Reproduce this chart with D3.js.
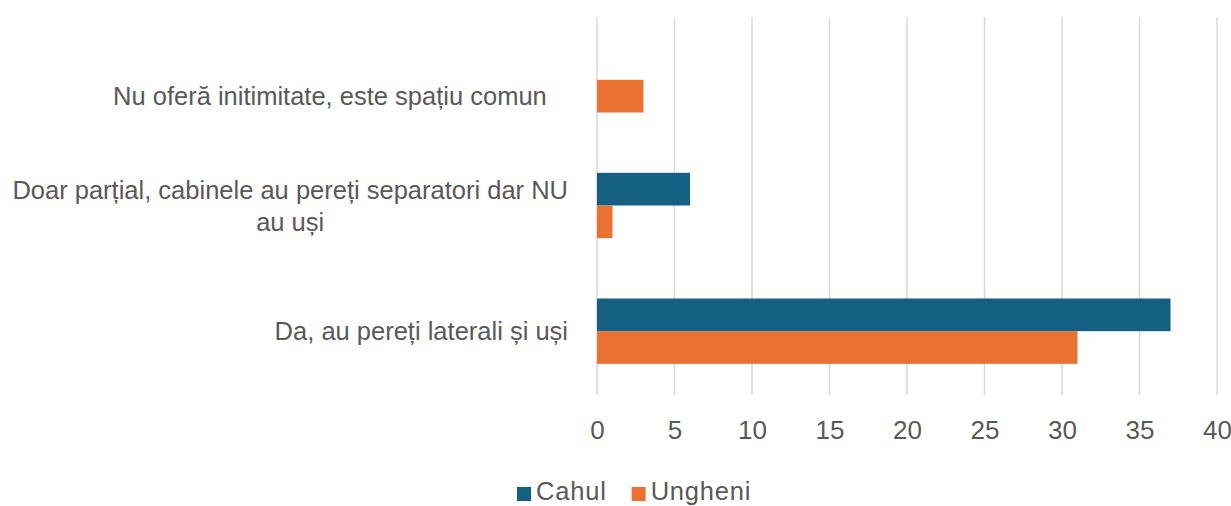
<!DOCTYPE html>
<html><head><meta charset="utf-8">
<script src="https://cdn.jsdelivr.net/npm/d3@7"></script>
<style>
body{margin:0;background:#fff;}
text{font-family:"Liberation Sans",Arial,sans-serif;fill:#595959;}
.lbl{white-space:pre;}
</style></head>
<body><svg id="chart" width="1231" height="506"></svg>
<script>
// ---- data ----
const categories = ["Nu oferă initimitate, este spațiu comun", "Doar parțial, cabinele au pereți separatori dar NU au uși", "Da, au pereți laterali și uși"];
const categoryLines = [["", "Nu oferă initimitate, este spațiu comun   "], ["Doar parțial, cabinele au pereți separatori dar NU", "au uși"], ["Da, au pereți laterali și uși"]];
const seriesNames = ["Cahul", "Ungheni"];
const cahulValues = [0, 6, 37];
const ungheniValues = [3, 1, 31];
const xTicks = [0, 5, 10, 15, 20, 25, 30, 35, 40];
const colors = ["#156082", "#E97132"];

const svg = d3.select("#chart");
const fontSize = 25.5;
const plot = {left: 597, right: 1217, top: 17, bottom: 394};

const x = d3.scaleLinear().domain([0, 40]).range([plot.left, plot.right]);
const y = d3.scaleBand().domain(categories).range([plot.top, plot.bottom]).paddingInner(0.48).paddingOuter(0.24);
const ySub = d3.scaleBand().domain(seriesNames).range([0, y.bandwidth()]);

// gridlines
svg.append("g").selectAll("line").data(xTicks).join("line")
  .attr("x1", d => x(d)).attr("x2", d => x(d))
  .attr("y1", plot.top).attr("y2", plot.bottom + 1)
  .attr("stroke", "#D9D9D9").attr("stroke-width", 1.5);

// x axis labels
const xAxis = d3.axisBottom(x).tickValues(xTicks).tickSize(0).tickPadding(0);
const gx = svg.append("g").attr("transform", `translate(0,${plot.bottom + 27})`).call(xAxis);
gx.select(".domain").remove();
gx.selectAll("text").attr("font-size", 26).attr("fill", "#595959").attr("dy", "0.71em")
  .style("font-family", '"Liberation Sans",Arial,sans-serif');

// bars
const data = categories.map((c, i) => ({cat: c, vals: [cahulValues[i], ungheniValues[i]]}));
const groups = svg.append("g").selectAll("g").data(data).join("g")
  .attr("transform", d => `translate(0,${y(d.cat)})`);
groups.selectAll("rect").data(d => d.vals.map((v, j) => ({s: seriesNames[j], v, j}))).join("rect")
  .attr("x", x(0)).attr("y", d => ySub(d.s))
  .attr("width", d => x(d.v) - x(0)).attr("height", ySub.bandwidth())
  .attr("fill", d => colors[d.j]);

// category labels
const labelRight = 568, lineH = 32;
categories.forEach((c, i) => {
  const lines = categoryLines[i];
  const cy = y(c) + y.bandwidth() / 2;
  const g = svg.append("g");
  const texts = lines.map((ln, k) => g.append("text").attr("class", "lbl")
    .attr("font-size", fontSize).text(ln)
    .attr("y", cy + (k - (lines.length - 1) / 2) * lineH + fontSize * 0.355));
  const widths = texts.map(t => t.node().getComputedTextLength());
  const maxW = d3.max(widths);
  const center = labelRight - maxW / 2;
  texts.forEach(t => t.attr("x", center).attr("text-anchor", "middle"));
});

// legend
const legend = svg.append("g");
let lx = 517;
seriesNames.forEach((s, i) => {
  legend.append("rect").attr("x", lx).attr("y", 487).attr("width", 14).attr("height", 14).attr("fill", colors[i]);
  const t = legend.append("text").attr("x", lx + 19).attr("y", 500).attr("font-size", fontSize).attr("letter-spacing", 0.8).text(s);
  lx += 19 + t.node().getComputedTextLength() + 25;
});
</script></body></html>
